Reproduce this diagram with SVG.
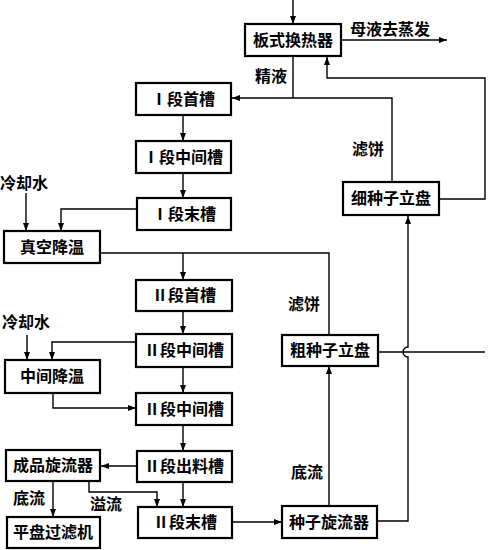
<svg xmlns="http://www.w3.org/2000/svg" width="488" height="550" viewBox="0 0 488 550">
<defs>
<marker id="ah" markerWidth="8" markerHeight="6" refX="8" refY="3" orient="auto" markerUnits="userSpaceOnUse">
<path d="M0,0 L8,3 L0,6 z" fill="#000"/>
</marker>
<style>
.box{fill:#fff;stroke:#000;stroke-width:2.2}
.t{font-family:"Noto Sans CJK SC","Noto Sans CJK JP",sans-serif;font-size:16px;font-weight:bold;fill:#000}
.c{text-anchor:middle}
.ln{fill:none;stroke:#000;stroke-width:1.4}
.ar{marker-end:url(#ah)}
</style>
</defs>
<rect width="488" height="550" fill="#fff"/>
<g id="connectors">
<path class="ln ar" d="M293,0 V24"/>
<path class="ln ar" d="M341,40 H447"/>
<path class="ln" d="M293,56 V98"/>
<path class="ln ar" d="M392,182 V98 H232"/>
<path class="ln ar" d="M439,199 H485 V78 H327 V57"/>
<path class="ln" d="M378,352 H485"/>
<path class="ln ar" d="M183,115 V141"/>
<path class="ln ar" d="M183,173 V198"/>
<path class="ln ar" d="M136,209 H61 V231"/>
<path class="ln ar" d="M26,193 V231"/>
<path class="ln" d="M100,253 H329 V335"/>
<path class="ln ar" d="M183,253 V280"/>
<path class="ln ar" d="M183,311 V334"/>
<path class="ln ar" d="M183,367 V393"/>
<path class="ln ar" d="M183,425 V451"/>
<path class="ln ar" d="M183,482 V507"/>
<path class="ln ar" d="M136,342 H52 V360"/>
<path class="ln ar" d="M27,335 V360"/>
<path class="ln ar" d="M53,393 V408 H136"/>
<path class="ln ar" d="M137,466 H101"/>
<path class="ln ar" d="M53,481 V517"/>
<path class="ln ar" d="M89,481 V492 H157 V507"/>
<path class="ln ar" d="M232,522 H282"/>
<path class="ln ar" d="M329,506 V366"/>
<path class="ln ar" d="M377,521 H408 V357 A5,5 0 0 1 408,347 V216"/>
</g>
<g id="labels">
<text class="t" x="350" y="35">母液去蒸发</text>
<text class="t" x="255" y="82">精液</text>
<text class="t" x="352" y="155">滤饼</text>
<text class="t" x="288" y="310">滤饼</text>
<text class="t" x="0" y="189">冷却水</text>
<text class="t" x="2" y="328">冷却水</text>
<text class="t" x="13" y="504">底流</text>
<text class="t" x="90" y="510">溢流</text>
<text class="t" x="291" y="478">底流</text>
</g>
<g id="hx"><rect class="box" x="245" y="24" width="96" height="32"/><text class="t c" x="293" y="46">板式换热器</text></g>
<g id="s1a"><rect class="box" x="136" y="83" width="95" height="32"/><text class="t c" x="183" y="105">Ⅰ段首槽</text></g>
<g id="s1b"><rect class="box" x="136" y="141" width="95" height="32"/><text class="t c" x="183" y="163">Ⅰ段中间槽</text></g>
<g id="s1c"><rect class="box" x="137" y="198" width="94" height="32"/><text class="t c" x="184" y="220">Ⅰ段末槽</text></g>
<g id="vac"><rect class="box" x="4" y="231" width="96" height="32"/><text class="t c" x="52" y="253">真空降温</text></g>
<g id="fine"><rect class="box" x="343" y="182" width="96" height="33"/><text class="t c" x="391" y="204">细种子立盘</text></g>
<g id="s2a"><rect class="box" x="136" y="280" width="96" height="31"/><text class="t c" x="184" y="301">Ⅱ段首槽</text></g>
<g id="coarse"><rect class="box" x="282" y="335" width="96" height="31"/><text class="t c" x="330" y="356">粗种子立盘</text></g>
<g id="s2b"><rect class="box" x="136" y="334" width="96" height="33"/><text class="t c" x="184" y="356">Ⅱ段中间槽</text></g>
<g id="cool2"><rect class="box" x="5" y="360" width="95" height="33"/><text class="t c" x="52" y="382">中间降温</text></g>
<g id="s2c"><rect class="box" x="136" y="393" width="96" height="32"/><text class="t c" x="184" y="415">Ⅱ段中间槽</text></g>
<g id="s2d"><rect class="box" x="137" y="451" width="95" height="31"/><text class="t c" x="184" y="472">Ⅱ段出料槽</text></g>
<g id="prod"><rect class="box" x="6" y="450" width="94" height="31"/><text class="t c" x="53" y="471">成品旋流器</text></g>
<g id="filt"><rect class="box" x="7" y="517" width="93" height="31"/><text class="t c" x="53" y="538">平盘过滤机</text></g>
<g id="s2e"><rect class="box" x="138" y="507" width="94" height="31"/><text class="t c" x="185" y="528">Ⅱ段末槽</text></g>
<g id="seedcyc"><rect class="box" x="282" y="506" width="95" height="32"/><text class="t c" x="329" y="528">种子旋流器</text></g>
</svg>
